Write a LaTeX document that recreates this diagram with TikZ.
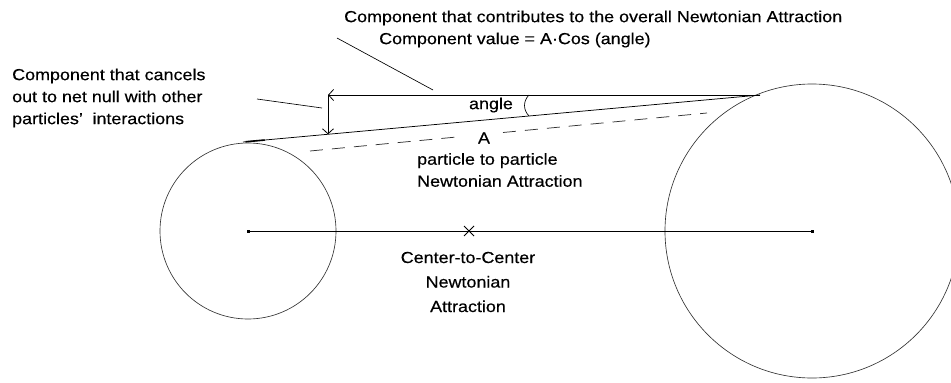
\documentclass[tikz,border=0pt]{standalone}
\usepackage{fontspec}
\setmainfont{Liberation Sans}[FakeStretch=1.12,FakeBold=0.35]
\usetikzlibrary{arrows.meta,calc}
\begin{document}
\begin{tikzpicture}[x=1pt,y=-1pt,
  line/.style={line width=0.75pt, black},
  thin circ/.style={line width=0.65pt, black!80},
  lbl/.style={inner sep=0pt, font=\fontsize{16}{22}\selectfont},
  tip/.style={-{Straight Barb[length=5pt,width=11pt,line width=0.8pt]}},
  dashline/.style={line width=0.75pt, black!80, dash pattern=on 13pt off 9pt},
]
\useasboundingbox (0,0) rectangle (951,383);

% centres and key points
\coordinate (C1) at (248,231);
\coordinate (C2) at (812,231);
\coordinate (T1) at (243,142);
\coordinate (T2) at (760,95);
\coordinate (H) at (328,95);
\coordinate (V) at (328,134.3);
\coordinate (D1) at (310,151);
\coordinate (Da) at (462,136.5);
\coordinate (Db) at (503,132.5);
\coordinate (D2) at (707,113);
\coordinate (X) at (469,231);
\coordinate (P1a) at (337,38);
\coordinate (P1b) at (433,90);
\coordinate (P2a) at (257,99);
\coordinate (P2b) at (322,108);
\coordinate (Ga) at (529,95);
\coordinate (Gb) at (529,115.9);

% circles
\draw[thin circ] (C1) circle[radius=88];
\draw[thin circ] (C2) circle[radius=147];

% texts
\node[lbl, anchor=west] (top1) at (344,18) {Component that contributes to the overall Newtonian Attraction};
\node[lbl, anchor=west] (top2) at (379,40) {Component value = A·Cos (angle)};
\node[lbl, anchor=west, align=left] (left) at (12,98) {Component that cancels\\out to net null with other\\particles'\hspace{0.6em}interactions};
\node[lbl] (angle) at (491,105) {angle};
\node[lbl] (A) at (484,138) {A};
\node[lbl, anchor=west, align=left] (pp) at (417,170) {particle to particle\\Newtonian Attraction};
\node[lbl, align=center, font=\fontsize{16}{24.5}\selectfont] (cc) at (468,282) {Center-to-Center\\Newtonian\\Attraction};

% force lines
\draw[line, tip] (T2) -- (H);
\draw[line] (T2) -- (T1);
\draw[line width=1.6pt] ($(T1)!0.005!(T2)$) -- ($(T1)!0.042!(T2)$);
\draw[line, tip] (H) -- (V);
\draw[dashline] (D1) -- (Da);
\draw[dashline] (Db) -- (D2);

% angle mark
\draw[line width=0.65pt] (Ga) .. controls (523,101) and (523,110) .. (Gb);

% centre line
\draw[line] (C1) -- (C2);
\fill ($(C1)+(-1.5,-1.5)$) rectangle ++(3,3);
\fill ($(C2)+(-1.5,-1.5)$) rectangle ++(3,3);
\draw[line] ($(X)+(-5,-5)$) -- ($(X)+(5,5)$) ($(X)+(-5,5)$) -- ($(X)+(5,-5)$);

% pointers
\draw[line width=0.65pt] (P1a) -- (P1b);
\draw[line width=0.65pt] (P2a) -- (P2b);
\end{tikzpicture}
\end{document}
